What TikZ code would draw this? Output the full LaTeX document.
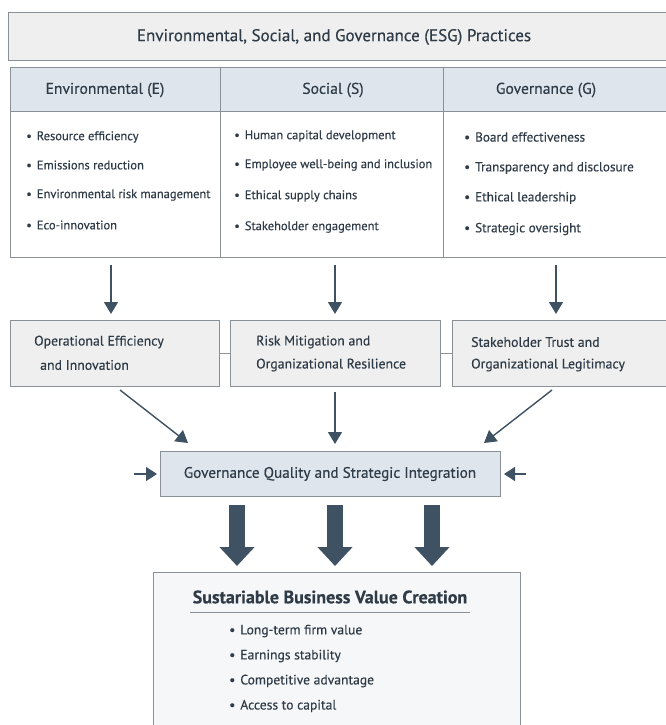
\documentclass[tikz,border=0pt]{standalone}
\usepackage{fontspec}
\setmainfont{PT Sans}[FakeBold=0.35]
\usetikzlibrary{arrows.meta,calc}
\definecolor{txt}{HTML}{2F3B47}
\definecolor{arrc}{HTML}{3F5264}
\definecolor{bord}{HTML}{8A9196}
\definecolor{grayfill}{HTML}{EFEFEF}
\definecolor{bluefill}{HTML}{DEE5ED}
\definecolor{lightfill}{HTML}{F6F7F8}
\tikzset{
  box/.style={draw=bord, line width=1pt, anchor=north west, inner sep=0pt},
  hdr/.style={font=\fontsize{15.6}{18}\selectfont, text=txt},
  item/.style={anchor=west, font=\fontsize{12.5}{15}\selectfont, text=txt, inner sep=0pt},
  mid/.style={anchor=west, font=\fontsize{13.8}{16}\selectfont, text=txt, inner sep=0pt},
  arr/.style={draw=arrc, line width=1.4pt, -{Triangle[width=14pt,length=12pt]}},
  big/.style={draw=arrc, line width=16pt, -{Triangle[width=34pt,length=19pt]}},
  link/.style={draw=bord, line width=1pt}
}
\newcommand{\bul}{\textbullet\hspace{5pt}}
\begin{document}
\begin{tikzpicture}[x=1pt,y=-1pt]
\useasboundingbox (0,0) rectangle (665,725);
\fill[white] (0,0) rectangle (665,725);
% title
\node[box, fill=grayfill, minimum width=660pt, minimum height=48pt] (title) at (8,12) {};
\node[text=txt, font=\fontsize{17}{20}\selectfont] (titletext) at (334,37) {Environmental, Social, and Governance (ESG) Practices};
% table columns
\node[box, fill=white, minimum width=210pt, minimum height=190pt] (colE) at (10,67) {};
\node[box, fill=white, minimum width=223pt, minimum height=190pt] (colS) at (220,67) {};
\node[box, fill=white, minimum width=225pt, minimum height=190pt] (colG) at (443,67) {};
\node[box, fill=bluefill, minimum width=210pt, minimum height=44pt] (hE) at (10,67) {};
\node[box, fill=bluefill, minimum width=223pt, minimum height=44pt] (hS) at (220,67) {};
\node[box, fill=bluefill, minimum width=225pt, minimum height=44pt] (hG) at (443,67) {};
\node[hdr] (tE) at (105,90) {Environmental (E)};
\node[hdr] (tS) at (333,90) {Social (S)};
\node[hdr] (tG) at (546,90) {Governance (G)};
% bullets E
\node[item] (e1) at (26,137) {\bul Resource efficiency};
\node[item] (e2) at (26,165) {\bul Emissions reduction};
\node[item] (e3) at (26,195) {\bul Environmental risk management};
\node[item] (e4) at (26,225) {\bul Eco-innovation};
% bullets S
\node[item] (s1) at (234,136) {\bul Human capital development};
\node[item] (s2) at (234,165) {\bul Employee well-being and inclusion};
\node[item] (s3) at (234,196) {\bul Ethical supply chains};
\node[item] (s4) at (234,227) {\bul Stakeholder engagement};
% bullets G
\node[item, font=\fontsize{13.2}{15}\selectfont] (g1) at (464,137) {\bul Board effectiveness};
\node[item, font=\fontsize{13.2}{15}\selectfont] (g2) at (464,168) {\bul Transparency and disclosure};
\node[item, font=\fontsize{13.2}{15}\selectfont] (g3) at (464,198) {\bul Ethical leadership};
\node[item, font=\fontsize{13.2}{15}\selectfont] (g4) at (464,229) {\bul Strategic oversight};
% middle boxes
\node[box, fill=grayfill, minimum width=209pt, minimum height=66pt] (opE) at (10,320) {};
\node[box, fill=grayfill, minimum width=210pt, minimum height=66pt] (risk) at (230,320) {};
\node[box, fill=grayfill, minimum width=216pt, minimum height=66pt] (trust) at (452,320) {};
\node[mid] (m1a) at (34,342) {Operational Efficiency};
\node[mid] (m1b) at (40,365) {and Innovation};
\node[mid] (m2a) at (256,342) {Risk Mitigation and};
\node[mid] (m2b) at (256,365) {Organizational Resilience};
\node[mid] (m3a) at (471,342) {Stakeholder Trust and};
\node[mid] (m3b) at (471,365) {Organizational Legitimacy};
\draw[link] (opE.east) -- (risk.west);
\draw[link] (risk.east) -- (trust.west);
% arrows table -> middle
\coordinate (aE) at (111,265);
\coordinate (aS) at (335,265);
\coordinate (aG) at (556,265);
\draw[arr] (aE) -- (aE |- 0,314);
\draw[arr] (aS) -- (aS |- 0,314);
\draw[arr] (aG) -- (aG |- 0,314);
% governance box
\node[box, fill=bluefill, minimum width=340pt, minimum height=45pt] (gov) at (160,451) {};
\node[text=txt, font=\fontsize{15.2}{18}\selectfont] (govt) at (330,474) {Governance Quality and Strategic Integration};
\coordinate (d1) at (120,390);
\coordinate (d2) at (335,392);
\coordinate (d3) at (552,390);
\draw[arr] (d1) -- ($(gov.north west)+(28,-8)$);
\draw[arr] (d2) -- (335,444);
\draw[arr] (d3) -- ($(gov.north east)+(-17,-8)$);
\coordinate (inL) at (134,474);
\coordinate (inR) at (526,474);
\draw[arr, -{Triangle[width=14pt,length=11pt]}] (inL) -- ($(gov.west)+(-3,0)$);
\draw[arr, -{Triangle[width=14pt,length=11pt]}] (inR) -- ($(gov.east)+(3,0)$);
% bottom box
\node[box, fill=lightfill, minimum width=367pt, minimum height=160pt] (value) at (153,572) {};
\draw[big] (237,505) -- (237,566);
\draw[big] (335,505) -- (335,566);
\draw[big] (432,505) -- (432,566);
\node[text=txt, font=\fontsize{18}{21}\selectfont\bfseries] (vt) at (330,597) {Sustariable Business Value Creation};
\draw[draw=bord, line width=0.8pt] (190,612) -- (470,612);
\node[item, font=\fontsize{13.6}{16}\selectfont] (v1) at (229,631) {\bul Long-term firm value};
\node[item, font=\fontsize{13.6}{16}\selectfont] (v2) at (229,656) {\bul Earnings stability};
\node[item, font=\fontsize{13.6}{16}\selectfont] (v3) at (229,681) {\bul Competitive advantage};
\node[item, font=\fontsize{13.6}{16}\selectfont] (v4) at (229,706) {\bul Access to capital};
\end{tikzpicture}
\end{document}
